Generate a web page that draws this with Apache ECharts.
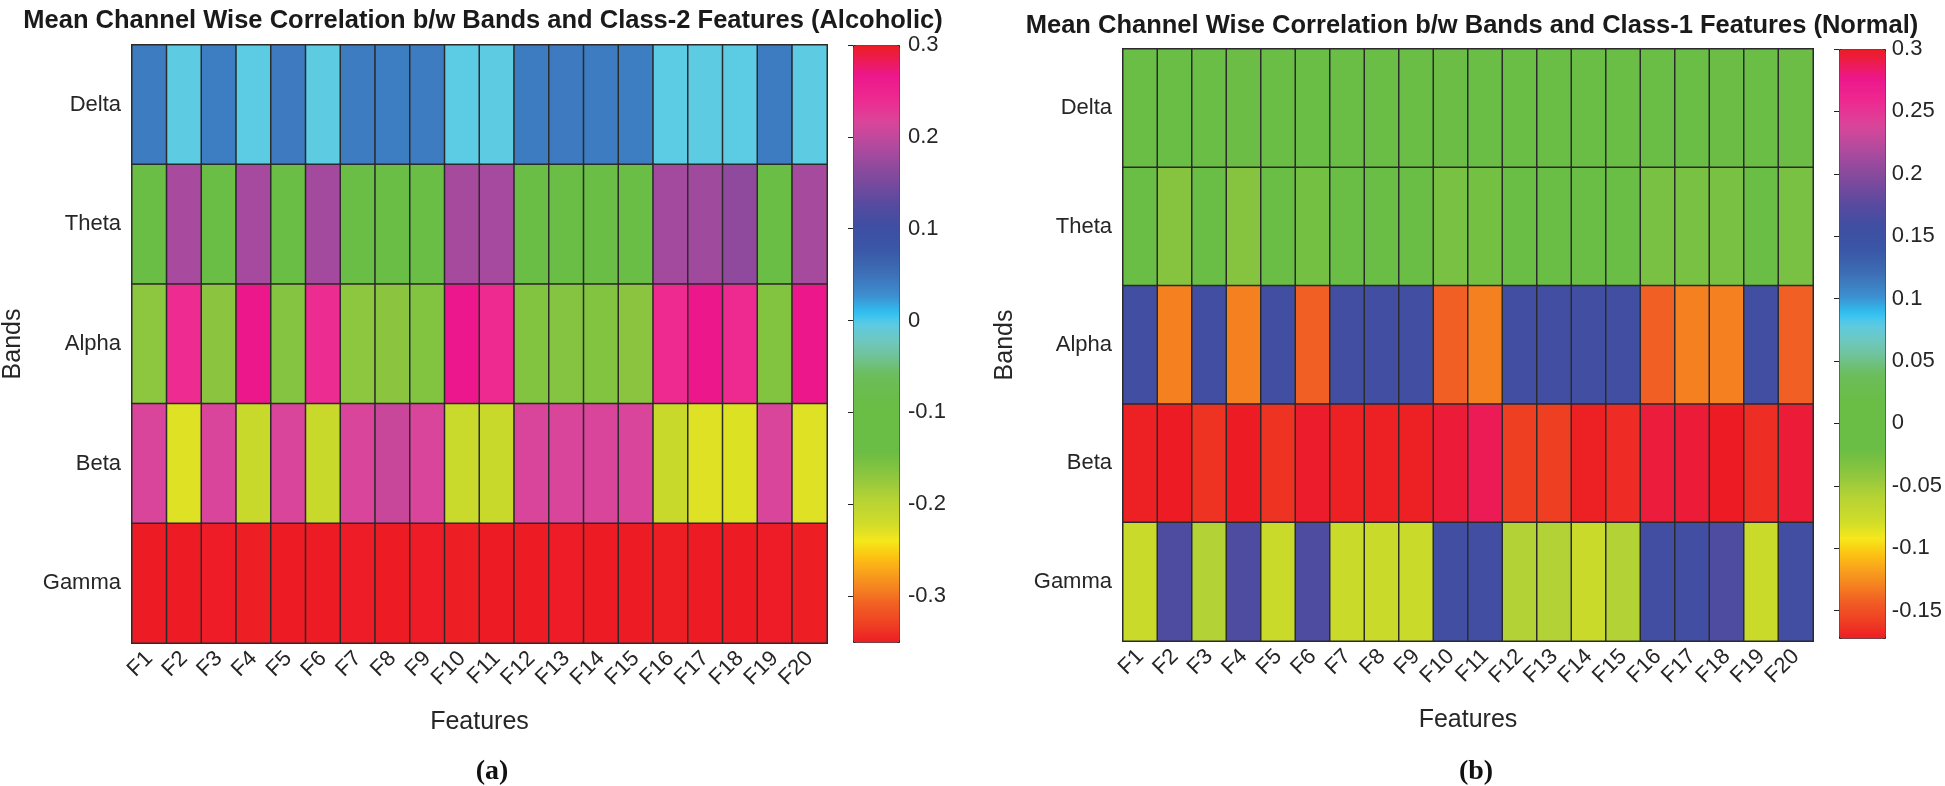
<!DOCTYPE html>
<html>
<head>
<meta charset="utf-8">
<title>Mean Channel Wise Correlation</title>
<script src="https://cdn.jsdelivr.net/npm/echarts@6/dist/echarts.min.js"></script>
<style>
  html, body { margin: 0; padding: 0; background: #fff; }
  #main { width: 1945px; height: 786px; }
</style>
</head>
<body>
<div id="main"></div>
<script>
// categories
var features = ['F1', 'F2', 'F3', 'F4', 'F5', 'F6', 'F7', 'F8', 'F9', 'F10',
                'F11', 'F12', 'F13', 'F14', 'F15', 'F16', 'F17', 'F18', 'F19', 'F20'];
var bands = ['Delta', 'Theta', 'Alpha', 'Beta', 'Gamma'];

// (a) class-2 (alcoholic), one array per band, F1..F20
var alcDelta = [0.042, -0.004, 0.041, -0.003, 0.043, -0.004, 0.042, 0.041, 0.042, -0.003,
                -0.004, 0.042, 0.043, 0.042, 0.041, -0.003, -0.004, -0.003, 0.042, -0.004];
var alcTheta = [-0.100, 0.184, -0.101, 0.182, -0.100, 0.181, -0.102, -0.101, -0.100, 0.183,
                0.182, -0.101, -0.100, -0.101, -0.100, 0.181, 0.179, 0.168, -0.101, 0.183];
var alcAlpha = [-0.168, 0.241, -0.167, 0.268, -0.162, 0.240, -0.168, -0.167, -0.160, 0.267,
                0.242, -0.160, -0.161, -0.160, -0.167, 0.243, 0.268, 0.242, -0.160, 0.268];
var alcBeta  = [0.216, -0.228, 0.215, -0.213, 0.216, -0.213, 0.215, 0.205, 0.215, -0.214,
                -0.213, 0.215, 0.216, 0.215, 0.216, -0.213, -0.228, -0.227, 0.215, -0.228];
var alcGamma = [0.300, -0.350, 0.299, -0.349, 0.300, -0.350, 0.299, 0.300, 0.299, -0.349,
                -0.350, 0.300, 0.299, 0.300, 0.300, -0.349, -0.350, -0.350, 0.299, -0.349];
var alcRange = [-0.35, 0.3];
var alcTicks = [-0.3, -0.2, -0.1, 0, 0.1, 0.2, 0.3];

// (b) class-1 (normal)
var nrmDelta = [0.000, -0.018, -0.004, -0.021, -0.004, -0.015, -0.004, 0.000, 0.000, -0.022,
                -0.018, -0.004, 0.000, 0.000, 0.000, -0.018, -0.018, -0.022, 0.000, -0.022];
var nrmTheta = [0.000, -0.036, 0.000, -0.036, 0.000, -0.026, 0.000, 0.000, 0.000, -0.029,
                -0.026, 0.000, 0.000, 0.000, 0.000, -0.029, -0.029, -0.029, 0.000, -0.029];
var nrmAlpha = [0.159, -0.130, 0.159, -0.130, 0.159, -0.142, 0.159, 0.159, 0.159, -0.142,
                -0.130, 0.159, 0.159, 0.159, 0.159, -0.142, -0.130, -0.130, 0.159, -0.142];
var nrmBeta  = [-0.170, 0.300, -0.163, 0.300, -0.163, 0.298, -0.170, -0.170, -0.170, 0.295,
                0.288, -0.158, -0.158, -0.170, -0.166, 0.294, 0.295, 0.300, -0.165, 0.295];
var nrmGamma = [-0.074, 0.168, -0.057, 0.168, -0.074, 0.168, -0.074, -0.074, -0.074, 0.159,
                0.159, -0.057, -0.057, -0.074, -0.057, 0.159, 0.159, 0.168, -0.074, 0.159];
var nrmRange = [-0.172, 0.3];
var nrmTicks = [-0.15, -0.1, -0.05, 0, 0.05, 0.1, 0.15, 0.2, 0.25, 0.3];

// colormap stops (fraction of colour axis, colour)
var cmapStops = [
  [0.00, '#ed1c24'], [0.03, '#ef4023'], [0.06, '#f15a24'], [0.09, '#f58220'],
  [0.12, '#f9a51b'], [0.145, '#fdc511'], [0.17, '#f5e81c'], [0.20, '#cfdc29'],
  [0.24, '#b5d334'], [0.28, '#8dc63f'], [0.32, '#6abd45'], [0.40, '#6abd45'],
  [0.45, '#6cbd5c'], [0.48, '#70c39a'], [0.51, '#6cc8c6'], [0.535, '#5ccbe6'],
  [0.55, '#2ec4f3'], [0.58, '#3d8fd0'], [0.62, '#3d6eb5'], [0.66, '#3a56a6'],
  [0.70, '#3f4ea2'], [0.74, '#5c4a9f'], [0.79, '#8a4a9d'], [0.83, '#b04a9e'],
  [0.87, '#d9469a'], [0.91, '#ee2a90'], [0.95, '#ec178c'], [0.98, '#ec1c4a'],
  [1.00, '#ed1c24']
];

function hex2rgb(h) {
  return [parseInt(h.substr(1, 2), 16), parseInt(h.substr(3, 2), 16), parseInt(h.substr(5, 2), 16)];
}
function buildColormap(n) {
  var out = [];
  for (var i = 0; i < n; i++) {
    var t = i / (n - 1);
    var k = 0;
    while (k < cmapStops.length - 2 && cmapStops[k + 1][0] < t) k++;
    var a = cmapStops[k], b = cmapStops[k + 1];
    var u = (t - a[0]) / (b[0] - a[0]);
    var ca = hex2rgb(a[1]), cb = hex2rgb(b[1]);
    var c = ca.map(function (v, j) { return Math.round(v + (cb[j] - v) * u); });
    out.push('rgb(' + c.join(',') + ')');
  }
  return out;
}
var cmap = buildColormap(160);

function toCells(rows) {
  var cells = [];
  for (var r = 0; r < rows.length; r++) {
    for (var c = 0; c < rows[r].length; c++) {
      cells.push([c, r, rows[r][c]]);
    }
  }
  return cells;
}

var txt = '#262626';
var fontSans = 'Liberation Sans, Arial, sans-serif';
var fontSerif = 'Liberation Serif, Times New Roman, serif';

function heatAxes(gi, bandsGap) {
  return {
    x: {
      type: 'category', gridIndex: gi, data: features,
      axisLine: { show: false }, axisTick: { show: false }, splitLine: { show: false },
      axisLabel: { rotate: 45, color: txt, fontSize: 22, fontFamily: fontSans, margin: 12, interval: 0 },
      name: 'Features', nameLocation: 'middle', nameGap: 67,
      nameTextStyle: { color: txt, fontSize: 25, fontFamily: fontSans }
    },
    y: {
      type: 'category', gridIndex: gi, data: bands, inverse: true,
      axisLine: { show: false }, axisTick: { show: false }, splitLine: { show: false },
      axisLabel: { color: txt, fontSize: 22, fontFamily: fontSans, margin: 11 },
      name: 'Bands', nameLocation: 'middle', nameGap: bandsGap, nameRotate: 90,
      nameTextStyle: { color: txt, fontSize: 25, fontFamily: fontSans }
    }
  };
}
function barAxes(gi, range, ticks) {
  return {
    x: { type: 'value', gridIndex: gi, show: false, min: 0, max: 1 },
    y: {
      type: 'value', gridIndex: gi, position: 'right', min: range[0], max: range[1],
      axisLine: { show: false }, splitLine: { show: false },
      axisTick: { show: true, inside: true, length: 5, lineStyle: { color: '#222' }, customValues: ticks },
      axisLabel: {
        color: txt, fontSize: 22, fontFamily: fontSans, margin: 9, customValues: ticks,
        formatter: function (v) { return String(+(+v).toFixed(2)); }
      }
    }
  };
}

var ha = heatAxes(0, 106), hb = heatAxes(1, 105);
var ba = barAxes(2, alcRange, alcTicks), bb = barAxes(3, nrmRange, nrmTicks);

var myChart = echarts.init(document.getElementById('main'));
var option = {
  backgroundColor: '#fff',
  animation: false,
  title: [
    { text: 'Mean Channel Wise Correlation b/w Bands and Class-2 Features (Alcoholic)', left: 478, top: 3, textAlign: 'center',
      textStyle: { fontSize: 25.5, fontWeight: 'bold', color: '#1a1a1a', fontFamily: fontSans } },
    { text: 'Mean Channel Wise Correlation b/w Bands and Class-1 Features (Normal)', left: 1467, top: 8, textAlign: 'center',
      textStyle: { fontSize: 25.5, fontWeight: 'bold', color: '#1a1a1a', fontFamily: fontSans } },
    { text: '(a)', left: 487, top: 753, textAlign: 'center',
      textStyle: { fontSize: 28, fontWeight: 'bold', color: '#111', fontFamily: fontSerif } },
    { text: '(b)', left: 1471, top: 753, textAlign: 'center',
      textStyle: { fontSize: 28, fontWeight: 'bold', color: '#111', fontFamily: fontSerif } }
  ],
  grid: [
    { left: 131, top: 45, width: 696, height: 598 },
    { left: 1123, top: 49, width: 690, height: 592 },
    { left: 853, top: 45, width: 46, height: 597 },
    { left: 1839, top: 49, width: 46, height: 589 }
  ],
  xAxis: [ha.x, hb.x, ba.x, bb.x],
  yAxis: [ha.y, hb.y, ba.y, bb.y],
  visualMap: [
    { type: 'continuous', seriesIndex: 0, min: alcRange[0], max: alcRange[1], calculable: false,
      left: 853, top: 45, itemWidth: 46, itemHeight: 597, text: ['', ''], padding: 0,
      borderColor: '#222', borderWidth: 1, inRange: { color: cmap } },
    { type: 'continuous', seriesIndex: 1, min: nrmRange[0], max: nrmRange[1], calculable: false,
      left: 1839, top: 49, itemWidth: 46, itemHeight: 589, text: ['', ''], padding: 0,
      borderColor: '#222', borderWidth: 1, inRange: { color: cmap } }
  ],
  series: [
    { type: 'heatmap', xAxisIndex: 0, yAxisIndex: 0,
      data: toCells([alcDelta, alcTheta, alcAlpha, alcBeta, alcGamma]),
      itemStyle: { borderColor: '#2b2b2b', borderWidth: 1.5 } },
    { type: 'heatmap', xAxisIndex: 1, yAxisIndex: 1,
      data: toCells([nrmDelta, nrmTheta, nrmAlpha, nrmBeta, nrmGamma]),
      itemStyle: { borderColor: '#2b2b2b', borderWidth: 1.5 } }
  ]
};
myChart.setOption(option);
</script>
</body>
</html>
